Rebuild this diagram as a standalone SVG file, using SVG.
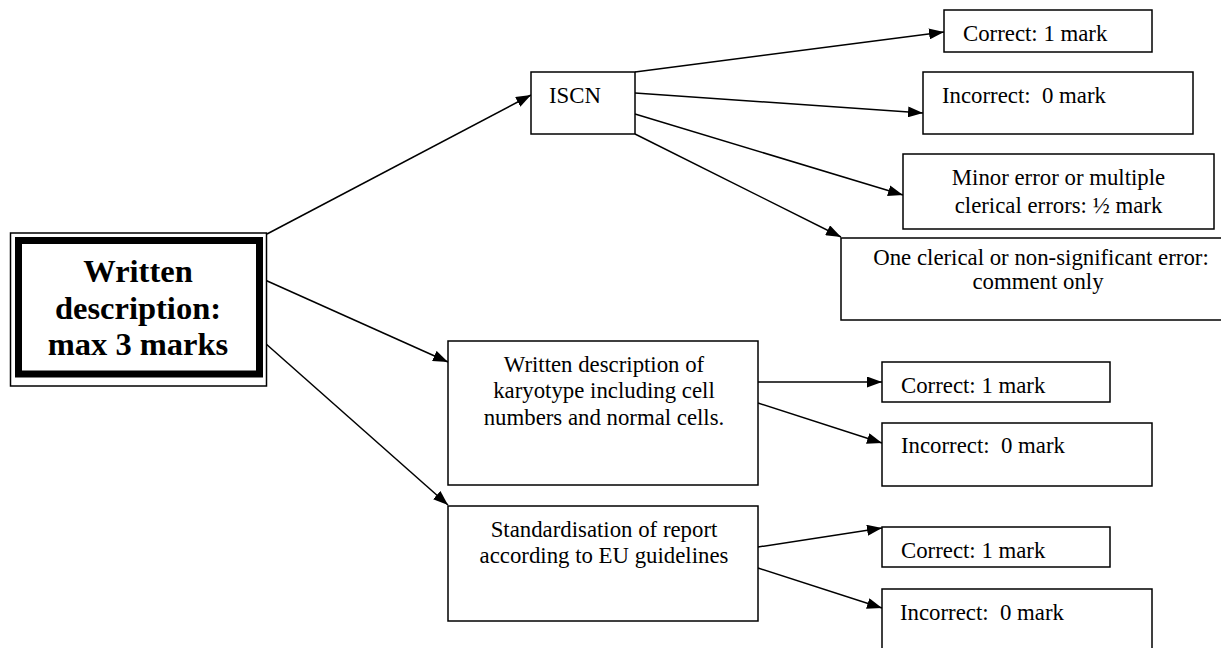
<svg xmlns="http://www.w3.org/2000/svg" width="1221" height="648" viewBox="0 0 1221 648">
  <style>
    .box { fill: #ffffff; stroke: #000000; stroke-width: 1.5; }
    .txt { font-family: "Liberation Serif", "Times New Roman", serif; font-size: 22.8px; fill: #000000; }
    .mid { text-anchor: middle; }
    .title { font-family: "Liberation Serif", "Times New Roman", serif; font-size: 32.5px; font-weight: bold; fill: #000000; text-anchor: middle; }
    .link { fill: none; stroke: #000000; stroke-width: 1.5; marker-end: url(#arrow); }
  </style>
  <defs>
    <marker id="arrow" viewBox="0 0 15 11" markerWidth="15" markerHeight="11" refX="15" refY="5.5" markerUnits="userSpaceOnUse" orient="auto">
      <path d="M0,0 L15,5.5 L0,11 Z" fill="#000000"/>
    </marker>
  </defs>
  <rect width="1221" height="648" fill="#ffffff"/>

  <!-- connectors -->
  <g id="connectors">
    <line class="link" x1="267" y1="234" x2="531" y2="95"/>
    <line class="link" x1="265" y1="280" x2="448" y2="362"/>
    <line class="link" x1="265" y1="343" x2="448" y2="505"/>

    <line class="link" x1="635" y1="72" x2="944" y2="32"/>
    <line class="link" x1="635" y1="93" x2="923" y2="113"/>
    <line class="link" x1="635" y1="114" x2="903" y2="195"/>
    <line class="link" x1="635" y1="134" x2="841" y2="237"/>

    <line class="link" x1="758" y1="382" x2="882" y2="382"/>
    <line class="link" x1="758" y1="403" x2="882" y2="443"/>
    <line class="link" x1="758" y1="547" x2="882" y2="528"/>
    <line class="link" x1="758" y1="568" x2="882" y2="608"/>
  </g>

  <!-- root: double-framed box -->
  <g id="root">
    <rect x="10.5" y="233" width="256" height="153" fill="#ffffff" stroke="#000000" stroke-width="1.5"/>
    <rect x="18.5" y="240.5" width="241" height="133.5" fill="#ffffff" stroke="#000000" stroke-width="7"/>
    <text class="title" x="138" y="282">Written</text>
    <text class="title" x="138" y="319">description:</text>
    <text class="title" x="138" y="355">max 3 marks</text>
  </g>

  <g id="iscn">
    <rect class="box" x="531" y="72" width="104" height="62"/>
    <text class="txt" x="549" y="103">ISCN</text>
  </g>

  <g id="iscn-correct">
    <rect class="box" x="944" y="10" width="208" height="42"/>
    <text class="txt" x="963" y="41">Correct: 1 mark</text>
  </g>

  <g id="iscn-incorrect">
    <rect class="box" x="923" y="72" width="270" height="62"/>
    <text class="txt" x="942" y="103" xml:space="preserve">Incorrect:  0 mark</text>
  </g>

  <g id="iscn-minor">
    <rect class="box" x="903" y="154" width="311" height="75"/>
    <text class="txt mid" x="1058.5" y="185">Minor error or multiple</text>
    <text class="txt mid" x="1058.5" y="213">clerical errors: ½ mark</text>
  </g>

  <g id="iscn-clerical">
    <rect class="box" x="841" y="238" width="400" height="82"/>
    <text class="txt mid" x="1041" y="265">One clerical or non-significant error:</text>
    <text class="txt mid" x="1038" y="289">comment only</text>
  </g>

  <g id="written">
    <rect class="box" x="448" y="341" width="310" height="144"/>
    <text class="txt mid" x="604" y="372">Written description of</text>
    <text class="txt mid" x="604" y="398">karyotype including cell</text>
    <text class="txt mid" x="604" y="425">numbers and normal cells.</text>
  </g>

  <g id="written-correct">
    <rect class="box" x="882" y="362" width="228" height="40"/>
    <text class="txt" x="901" y="393">Correct: 1 mark</text>
  </g>

  <g id="written-incorrect">
    <rect class="box" x="882" y="423" width="270" height="63"/>
    <text class="txt" x="901" y="453" xml:space="preserve">Incorrect:  0 mark</text>
  </g>

  <g id="standard">
    <rect class="box" x="448" y="506" width="310" height="115"/>
    <text class="txt mid" x="604" y="537">Standardisation of report</text>
    <text class="txt mid" x="604" y="563">according to EU guidelines</text>
  </g>

  <g id="standard-correct">
    <rect class="box" x="882" y="527" width="228" height="40"/>
    <text class="txt" x="901" y="558">Correct: 1 mark</text>
  </g>

  <g id="standard-incorrect">
    <rect class="box" x="882" y="589" width="270" height="80"/>
    <text class="txt" x="900" y="620" xml:space="preserve">Incorrect:  0 mark</text>
  </g>
</svg>
